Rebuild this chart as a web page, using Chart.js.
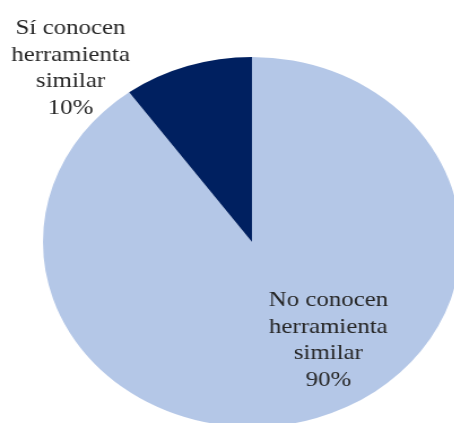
<!DOCTYPE html>
<html>
<head>
<meta charset="utf-8">
<script src="https://cdn.jsdelivr.net/npm/chart.js@4"></script>
<style>
    html, body { margin: 0; padding: 0; background: #fff; overflow: hidden; width: 454px; height: 423px; }
    #grafico { position: absolute; left: 0; top: 0; transform: scaleX(1.13); transform-origin: 0 0; }
</style>
</head>
<body>
<canvas id="grafico" width="430" height="440"></canvas>
<script>
// datos del grafico
var categorias = ['No conocen herramienta similar', 'Sí conocen herramienta similar'];
var lineas = [['No conocen', 'herramienta', 'similar'], ['Sí conocen', 'herramienta', 'similar']];
var valores = [90, 10];
var colores = ['#B4C7E7', '#002060'];

// desplazamiento de cada etiqueta respecto al centro del sector
var desplazamientos = [[39, 10], [-132, -86]];

var etiquetas = {
    id: 'etiquetas',
    afterDatasetsDraw: function (chart) {
        var ctx = chart.ctx;
        var meta = chart.getDatasetMeta(0);
        var total = valores.reduce(function (a, b) { return a + b; }, 0);
        ctx.save();
        ctx.font = '22px "Liberation Serif", "Times New Roman", serif';
        ctx.fillStyle = '#262626';
        ctx.textAlign = 'center';
        ctx.textBaseline = 'middle';
        meta.data.forEach(function (arc, i) {
            var p = arc.tooltipPosition();
            var x = p.x + desplazamientos[i][0];
            var y = p.y + desplazamientos[i][1];
            var txt = lineas[i].concat([Math.round(valores[i] / total * 100) + '%']);
            var alto = 26.5;
            var y0 = y - (txt.length - 1) * alto / 2;
            txt.forEach(function (t, j) {
                ctx.fillText(t, x, y0 + j * alto);
            });
        });
        ctx.restore();
    }
};

var ctx = document.getElementById('grafico').getContext('2d');
var grafico = new Chart(ctx, {
    type: 'pie',
    data: {
        labels: categorias,
        datasets: [{
            data: valores,
            backgroundColor: colores,
            borderWidth: 0
        }]
    },
    options: {
        responsive: false,
        animation: false,
        devicePixelRatio: 1,
        layout: { padding: { left: 38, right: 22, top: 57, bottom: 13 } },
        plugins: {
            legend: { display: false },
            tooltip: { enabled: false }
        }
    },
    plugins: [etiquetas]
});
</script>
</body>
</html>
